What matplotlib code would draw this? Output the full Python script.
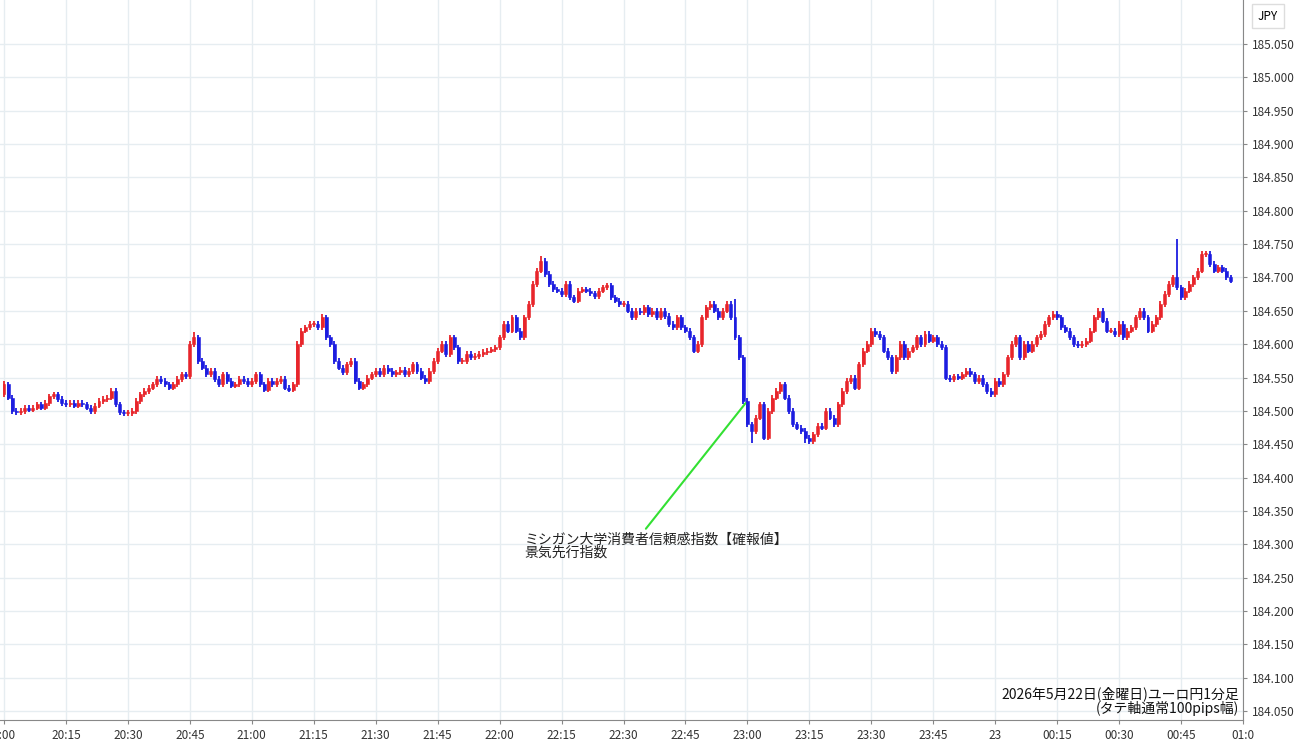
import matplotlib
matplotlib.use("Agg")
import matplotlib.pyplot as plt
from matplotlib.patches import Rectangle

plt.rcParams['font.family'] = ['Noto Sans CJK JP', 'DejaVu Sans']

closes = [
184.540,184.520,184.500,184.498,184.500,184.505,184.502,184.505,184.510,184.505,184.512,184.522,184.525,184.518,184.512,
184.510,184.512,184.508,184.512,184.510,184.505,184.500,184.508,184.515,184.518,184.520,184.530,184.510,184.498,184.497,
184.497,184.500,184.515,184.525,184.530,184.535,184.540,184.548,184.545,184.540,184.535,184.540,184.548,184.555,184.552,
184.600,184.610,184.575,184.565,184.555,184.560,184.548,184.540,184.555,184.545,184.538,184.540,184.548,184.545,184.540,
184.545,184.555,184.540,184.532,184.545,184.540,184.545,184.548,184.535,184.532,184.540,184.600,184.620,184.625,184.630,
184.630,184.625,184.640,184.610,184.600,184.575,184.565,184.558,184.570,184.575,184.545,184.535,184.540,184.550,184.555,
184.560,184.555,184.565,184.560,184.555,184.558,184.562,184.555,184.560,184.570,184.560,184.550,184.545,184.560,184.575,
184.590,184.600,184.585,184.610,184.595,184.575,184.575,184.585,184.580,184.582,184.585,184.588,184.590,184.592,184.595,
184.610,184.630,184.620,184.640,184.620,184.610,184.640,184.660,184.690,184.710,184.725,184.705,184.690,184.682,184.680,
184.675,184.690,184.670,184.665,184.680,184.682,184.680,184.676,184.672,184.680,184.685,184.688,184.670,184.665,184.660,
184.660,184.650,184.640,184.650,184.648,184.655,184.645,184.650,184.640,184.650,184.642,184.630,184.625,184.640,184.625,
184.620,184.610,184.590,184.600,184.640,184.655,184.660,184.650,184.640,184.650,184.660,184.640,184.610,184.580,184.515,
184.480,184.470,184.490,184.510,184.460,184.500,184.520,184.530,184.540,184.520,184.500,184.480,184.475,184.470,184.460,
184.455,184.465,184.478,184.475,184.500,184.490,184.480,184.510,184.530,184.545,184.550,184.535,184.570,184.590,184.600,
184.620,184.615,184.610,184.590,184.580,184.560,184.580,184.600,184.580,184.590,184.595,184.610,184.600,184.615,184.605,
184.610,184.600,184.595,184.550,184.548,184.552,184.550,184.555,184.560,184.555,184.545,184.550,184.540,184.530,184.525,
184.545,184.540,184.555,184.580,184.600,184.610,184.580,184.600,184.590,184.600,184.610,184.615,184.630,184.640,184.645,
184.640,184.625,184.620,184.610,184.600,184.598,184.600,184.605,184.620,184.640,184.650,184.635,184.620,184.620,184.615,
184.630,184.610,184.620,184.625,184.640,184.650,184.640,184.620,184.630,184.640,184.660,184.675,184.690,184.700,184.685,
184.670,184.680,184.690,184.700,184.710,184.735,184.735,184.720,184.710,184.715,184.710,184.700,184.695,
]
first_open = 184.525
wick = 0.004
spike_hi = {0: 184.545, 46: 184.618, 77: 184.645, 130: 184.732, 177: 184.668, 284: 184.758}
spike_lo = {194: 184.452, 195: 184.450, 181: 184.452}

x_labels = ["0:00", "20:15", "20:30", "20:45", "21:00", "21:15", "21:30", "21:45", "22:00", "22:15",
            "22:30", "22:45", "23:00", "23:15", "23:30", "23:45", "23", "00:15", "00:30", "00:45", "01:0"]

fig = plt.figure(figsize=(13, 7.45), dpi=100)
ax = fig.add_axes([0, 25/745, 1243/1300, 720/745])
UP, DN = '#e8252b', '#1c1ce0'
opens = [first_open] + closes[:-1]
for i, (o, c) in enumerate(zip(opens, closes)):
    col = UP if c >= o else DN
    hi = max(max(o, c) + wick, spike_hi.get(i, 0))
    lo = min(min(o, c) - wick, spike_lo.get(i, 999))
    ax.vlines(i, lo, hi, color=col, lw=1.3, zorder=3)
    ax.add_patch(Rectangle((i - 0.36, min(o, c)), 0.72, max(abs(c - o), 0.001),
                           facecolor=col, edgecolor=col, lw=0.4, zorder=4))

ax.set_xlim(-0.97, 300)
ax.set_ylim(184.0365, 185.116)
yt = [184.05 + 0.05 * k for k in range(21)]
ax.set_yticks(yt)
ax.set_yticklabels([f"{v:.3f}" for v in yt], fontsize=8.5, color='#333333')
ax.yaxis.tick_right()
ax.set_xticks([15 * k for k in range(21)])
ax.set_xticklabels(x_labels, fontsize=8.5, color='#333333')
ax.tick_params(length=3, color='#888888')
ax.grid(color='#e6edf1', lw=1)
for s in ['top', 'left']:
    ax.spines[s].set_visible(False)
ax.spines['right'].set_color('#888888')
ax.spines['bottom'].set_color('#888888')

ax.annotate("", xy=(180, 184.515), xytext=(155, 184.320),
            arrowprops=dict(arrowstyle='-', color='#33e033', lw=1.5))
ax.text(126, 184.318, "ミシガン大学消費者信頼感指数【確報値】\n景気先行指数", fontsize=10,
        va='top', ha='left', color='#222222', linespacing=0.95)
ax.text(0.997, 0.006, "2026年5月22日(金曜日)ユーロ円1分足\n(タテ軸通常100pips幅)", transform=ax.transAxes,
        fontsize=10, ha='right', va='bottom', color='#111111', linespacing=0.95)
fig.text(1268/1300, 1 - 16/745, "JPY", fontsize=8.5, ha='center', va='center',
         bbox=dict(boxstyle='square,pad=0.5', fc='white', ec='#dddddd'))
fig.savefig("out.png", dpi=100)
